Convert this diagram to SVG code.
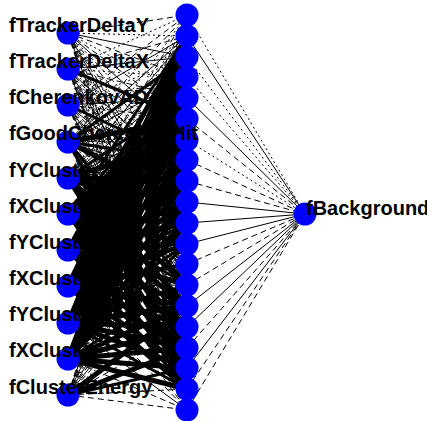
<svg xmlns="http://www.w3.org/2000/svg" width="427" height="421" viewBox="0 0 427 421">
<style>
.c path{fill:none;stroke:#000}
.t{stroke-width:5}
.m{stroke-width:3}
.s{stroke-width:1}
.d{stroke-width:1;stroke-dasharray:6 4}
.o{stroke-width:1;stroke-dasharray:2 3}
circle{fill:#0000ff}
text{font-family:"Liberation Sans",Arial,sans-serif;font-weight:bold;font-size:20px;fill:#000}
</style>
<rect width="427" height="421" fill="#fff"/>
<g id="connectors" class="c">
<path class="d" d="M68 33L187 15"/><path class="o" d="M68 33L187 36"/><path class="s" d="M68 33L187 57"/><path class="d" d="M68 33L187 77"/><path class="o" d="M68 33L187 98"/><path class="d" d="M68 33L187 119"/><path class="s" d="M68 33L187 140"/><path class="o" d="M68 33L187 160"/><path class="d" d="M68 33L187 181"/><path class="o" d="M68 33L187 202"/><path class="d" d="M68 33L187 223"/><path class="s" d="M68 33L187 244"/><path class="o" d="M68 33L187 264"/><path class="d" d="M68 33L187 285"/><path class="o" d="M68 33L187 306"/><path class="d" d="M68 33L187 327"/><path class="s" d="M68 33L187 348"/><path class="o" d="M68 33L187 368"/><path class="d" d="M68 33L187 389"/><path class="d" d="M68 33L187 410"/>
<path class="o" d="M68 69L187 15"/><path class="d" d="M68 69L187 36"/><path class="s" d="M68 69L187 57"/><path class="o" d="M68 69L187 77"/><path class="d" d="M68 69L187 98"/><path class="m" d="M68 69L187 119"/><path class="d" d="M68 69L187 140"/><path class="o" d="M68 69L187 160"/><path class="s" d="M68 69L187 181"/><path class="d" d="M68 69L187 202"/><path class="o" d="M68 69L187 223"/><path class="d" d="M68 69L187 244"/><path class="s" d="M68 69L187 264"/><path class="d" d="M68 69L187 285"/><path class="o" d="M68 69L187 306"/><path class="d" d="M68 69L187 327"/><path class="o" d="M68 69L187 348"/><path class="s" d="M68 69L187 368"/><path class="d" d="M68 69L187 389"/><path class="o" d="M68 69L187 410"/>
<path class="d" d="M68 105L187 15"/><path class="s" d="M68 105L187 36"/><path class="o" d="M68 105L187 57"/><path class="d" d="M68 105L187 77"/><path class="s" d="M68 105L187 98"/><path class="d" d="M68 105L187 119"/><path class="o" d="M68 105L187 140"/><path class="m" d="M68 105L187 160"/><path class="d" d="M68 105L187 181"/><path class="s" d="M68 105L187 202"/><path class="d" d="M68 105L187 223"/><path class="o" d="M68 105L187 244"/><path class="d" d="M68 105L187 264"/><path class="s" d="M68 105L187 285"/><path class="o" d="M68 105L187 306"/><path class="d" d="M68 105L187 327"/><path class="s" d="M68 105L187 348"/><path class="d" d="M68 105L187 368"/><path class="o" d="M68 105L187 389"/><path class="d" d="M68 105L187 410"/>
<path class="d" d="M68 142L187 15"/><path class="s" d="M68 142L187 36"/><path class="m" d="M68 142L187 57"/><path class="s" d="M68 142L187 77"/><path class="o" d="M68 142L187 98"/><path class="t" d="M68 142L187 119"/><path class="d" d="M68 142L187 140"/><path class="m" d="M68 142L187 160"/><path class="s" d="M68 142L187 181"/><path class="t" d="M68 142L187 202"/><path class="d" d="M68 142L187 223"/><path class="o" d="M68 142L187 244"/><path class="s" d="M68 142L187 264"/><path class="m" d="M68 142L187 285"/><path class="d" d="M68 142L187 306"/><path class="s" d="M68 142L187 327"/><path class="m" d="M68 142L187 348"/><path class="o" d="M68 142L187 368"/><path class="s" d="M68 142L187 389"/><path class="d" d="M68 142L187 410"/>
<path class="o" d="M68 178L187 15"/><path class="s" d="M68 178L187 36"/><path class="d" d="M68 178L187 57"/><path class="s" d="M68 178L187 77"/><path class="m" d="M68 178L187 98"/><path class="s" d="M68 178L187 119"/><path class="t" d="M68 178L187 140"/><path class="d" d="M68 178L187 160"/><path class="t" d="M68 178L187 181"/><path class="m" d="M68 178L187 202"/><path class="t" d="M68 178L187 223"/><path class="s" d="M68 178L187 244"/><path class="d" d="M68 178L187 264"/><path class="t" d="M68 178L187 285"/><path class="t" d="M68 178L187 306"/><path class="d" d="M68 178L187 327"/><path class="t" d="M68 178L187 348"/><path class="t" d="M68 178L187 368"/><path class="d" d="M68 178L187 389"/><path class="o" d="M68 178L187 410"/>
<path class="d" d="M68 214L187 15"/><path class="m" d="M68 214L187 36"/><path class="s" d="M68 214L187 57"/><path class="m" d="M68 214L187 77"/><path class="t" d="M68 214L187 98"/><path class="t" d="M68 214L187 119"/><path class="t" d="M68 214L187 140"/><path class="d" d="M68 214L187 160"/><path class="t" d="M68 214L187 181"/><path class="m" d="M68 214L187 202"/><path class="t" d="M68 214L187 223"/><path class="t" d="M68 214L187 244"/><path class="s" d="M68 214L187 264"/><path class="m" d="M68 214L187 285"/><path class="t" d="M68 214L187 306"/><path class="t" d="M68 214L187 327"/><path class="d" d="M68 214L187 348"/><path class="t" d="M68 214L187 368"/><path class="m" d="M68 214L187 389"/><path class="d" d="M68 214L187 410"/>
<path class="o" d="M68 250L187 15"/><path class="t" d="M68 250L187 36"/><path class="t" d="M68 250L187 57"/><path class="t" d="M68 250L187 77"/><path class="m" d="M68 250L187 98"/><path class="t" d="M68 250L187 119"/><path class="t" d="M68 250L187 140"/><path class="t" d="M68 250L187 160"/><path class="m" d="M68 250L187 181"/><path class="t" d="M68 250L187 202"/><path class="t" d="M68 250L187 223"/><path class="m" d="M68 250L187 244"/><path class="d" d="M68 250L187 264"/><path class="t" d="M68 250L187 285"/><path class="t" d="M68 250L187 306"/><path class="t" d="M68 250L187 327"/><path class="t" d="M68 250L187 348"/><path class="t" d="M68 250L187 368"/><path class="m" d="M68 250L187 389"/><path class="d" d="M68 250L187 410"/>
<path class="d" d="M68 286L187 15"/><path class="t" d="M68 286L187 36"/><path class="t" d="M68 286L187 57"/><path class="t" d="M68 286L187 77"/><path class="t" d="M68 286L187 98"/><path class="m" d="M68 286L187 119"/><path class="t" d="M68 286L187 140"/><path class="t" d="M68 286L187 160"/><path class="t" d="M68 286L187 181"/><path class="t" d="M68 286L187 202"/><path class="m" d="M68 286L187 223"/><path class="t" d="M68 286L187 244"/><path class="m" d="M68 286L187 264"/><path class="s" d="M68 286L187 285"/><path class="t" d="M68 286L187 306"/><path class="t" d="M68 286L187 327"/><path class="t" d="M68 286L187 348"/><path class="t" d="M68 286L187 368"/><path class="t" d="M68 286L187 389"/><path class="d" d="M68 286L187 410"/>
<path class="o" d="M68 323L187 15"/><path class="t" d="M68 323L187 36"/><path class="t" d="M68 323L187 57"/><path class="t" d="M68 323L187 77"/><path class="t" d="M68 323L187 98"/><path class="t" d="M68 323L187 119"/><path class="m" d="M68 323L187 140"/><path class="t" d="M68 323L187 160"/><path class="t" d="M68 323L187 181"/><path class="t" d="M68 323L187 202"/><path class="t" d="M68 323L187 223"/><path class="m" d="M68 323L187 244"/><path class="s" d="M68 323L187 264"/><path class="m" d="M68 323L187 285"/><path class="t" d="M68 323L187 306"/><path class="t" d="M68 323L187 327"/><path class="t" d="M68 323L187 348"/><path class="t" d="M68 323L187 368"/><path class="m" d="M68 323L187 389"/><path class="s" d="M68 323L187 410"/>
<path class="d" d="M68 359L187 15"/><path class="t" d="M68 359L187 36"/><path class="t" d="M68 359L187 57"/><path class="t" d="M68 359L187 77"/><path class="t" d="M68 359L187 98"/><path class="t" d="M68 359L187 119"/><path class="t" d="M68 359L187 140"/><path class="t" d="M68 359L187 160"/><path class="m" d="M68 359L187 181"/><path class="t" d="M68 359L187 202"/><path class="t" d="M68 359L187 223"/><path class="m" d="M68 359L187 244"/><path class="d" d="M68 359L187 264"/><path class="m" d="M68 359L187 285"/><path class="t" d="M68 359L187 306"/><path class="t" d="M68 359L187 327"/><path class="t" d="M68 359L187 348"/><path class="t" d="M68 359L187 368"/><path class="t" d="M68 359L187 389"/><path class="d" d="M68 359L187 410"/>
<path class="d" d="M68 395L187 15"/><path class="o" d="M68 395L187 36"/><path class="s" d="M68 395L187 57"/><path class="d" d="M68 395L187 77"/><path class="o" d="M68 395L187 98"/><path class="d" d="M68 395L187 119"/><path class="s" d="M68 395L187 140"/><path class="d" d="M68 395L187 160"/><path class="o" d="M68 395L187 181"/><path class="s" d="M68 395L187 202"/><path class="d" d="M68 395L187 223"/><path class="s" d="M68 395L187 244"/><path class="d" d="M68 395L187 264"/><path class="o" d="M68 395L187 285"/><path class="t" d="M68 395L187 306"/><path class="d" d="M68 395L187 327"/><path class="t" d="M68 395L187 348"/><path class="m" d="M68 395L187 368"/><path class="d" d="M68 395L187 389"/><path class="d" d="M68 395L187 410"/>
<path class="o" d="M187 15L305 214"/><path class="s" d="M187 36L305 214"/><path class="o" d="M187 57L305 214"/><path class="o" d="M187 77L305 214"/><path class="s" d="M187 98L305 214"/><path class="d" d="M187 119L305 214"/><path class="o" d="M187 140L305 214"/><path class="d" d="M187 160L305 214"/><path class="d" d="M187 181L305 214"/><path class="s" d="M187 202L305 214"/><path class="s" d="M187 223L305 214"/><path class="s" d="M187 244L305 214"/><path class="d" d="M187 264L305 214"/><path class="d" d="M187 285L305 214"/><path class="s" d="M187 306L305 214"/><path class="s" d="M187 327L305 214"/><path class="d" d="M187 348L305 214"/><path class="s" d="M187 368L305 214"/><path class="d" d="M187 389L305 214"/><path class="d" d="M187 410L305 214"/>
</g>
<g id="h0"><circle cx="187" cy="15" r="11.5"/></g>
<g id="h1"><circle cx="187" cy="36" r="11.5"/></g>
<g id="h2"><circle cx="187" cy="57" r="11.5"/></g>
<g id="h3"><circle cx="187" cy="77" r="11.5"/></g>
<g id="h4"><circle cx="187" cy="98" r="11.5"/></g>
<g id="h5"><circle cx="187" cy="119" r="11.5"/></g>
<g id="h6"><circle cx="187" cy="140" r="11.5"/></g>
<g id="h7"><circle cx="187" cy="160" r="11.5"/></g>
<g id="h8"><circle cx="187" cy="181" r="11.5"/></g>
<g id="h9"><circle cx="187" cy="202" r="11.5"/></g>
<g id="h10"><circle cx="187" cy="223" r="11.5"/></g>
<g id="h11"><circle cx="187" cy="244" r="11.5"/></g>
<g id="h12"><circle cx="187" cy="264" r="11.5"/></g>
<g id="h13"><circle cx="187" cy="285" r="11.5"/></g>
<g id="h14"><circle cx="187" cy="306" r="11.5"/></g>
<g id="h15"><circle cx="187" cy="327" r="11.5"/></g>
<g id="h16"><circle cx="187" cy="348" r="11.5"/></g>
<g id="h17"><circle cx="187" cy="368" r="11.5"/></g>
<g id="h18"><circle cx="187" cy="389" r="11.5"/></g>
<g id="h19"><circle cx="187" cy="410" r="11.5"/></g>
<g id="out"><circle cx="305" cy="214" r="11.5"/><text x="306" y="215">fBackground</text></g>
<g id="in0"><circle cx="68" cy="33" r="11.5"/><text x="9" y="31.5">fTrackerDeltaY</text></g>
<g id="in1"><circle cx="68" cy="69" r="11.5"/><text x="9" y="67.5">fTrackerDeltaX</text></g>
<g id="in2"><circle cx="68" cy="105" r="11.5"/><text x="9" y="103.5">fCherenkovAD</text></g>
<g id="in3"><circle cx="68" cy="142" r="11.5"/><text x="9" y="140">fGoodCherenkovHit</text></g>
<g id="in4"><circle cx="68" cy="178" r="11.5"/><text x="9" y="176.5">fYCluste</text></g>
<g id="in5"><circle cx="68" cy="214" r="11.5"/><text x="9" y="212.5">fXCluste</text></g>
<g id="in6"><circle cx="68" cy="250" r="11.5"/><text x="9" y="248.5">fYClust</text></g>
<g id="in7"><circle cx="68" cy="286" r="11.5"/><text x="9" y="284.5">fXClust</text></g>
<g id="in8"><circle cx="68" cy="323" r="11.5"/><text x="9" y="321">fYClust</text></g>
<g id="in9"><circle cx="68" cy="359" r="11.5"/><text x="9" y="357">fXClust</text></g>
<g id="in10"><circle cx="68" cy="395" r="11.5"/><text x="9" y="393.5">fClusterEnergy</text></g>
</svg>
